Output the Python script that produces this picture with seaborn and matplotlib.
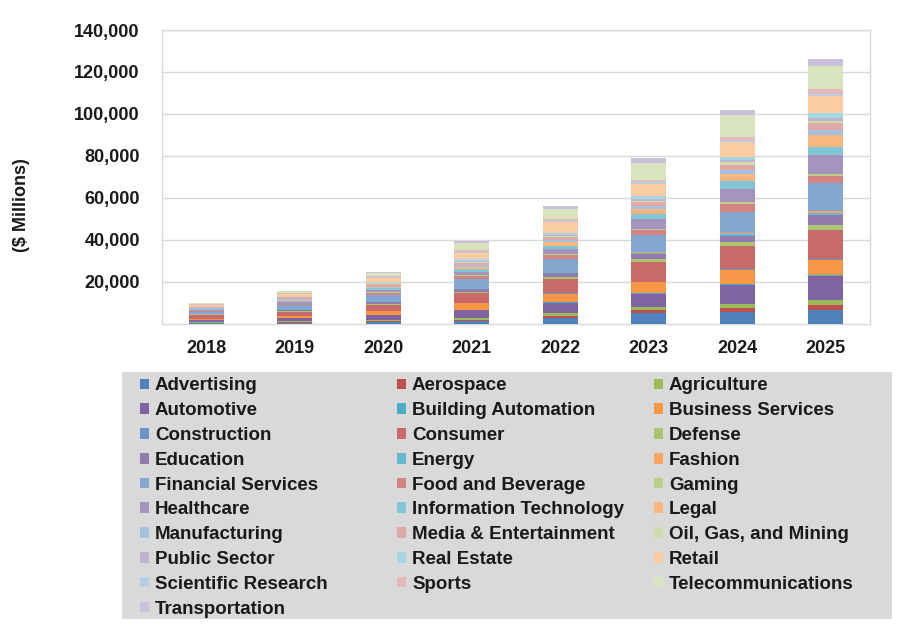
import numpy as np
import pandas as pd
import matplotlib
matplotlib.use("Agg")
import matplotlib.pyplot as plt
import seaborn as sns
from matplotlib.patches import Patch, Rectangle
from matplotlib.ticker import FuncFormatter, FixedLocator

# ---------------- data ----------------
years = ["2018", "2019", "2020", "2021", "2022", "2023", "2024", "2025"]
categories = [
    "Advertising", "Aerospace", "Agriculture", "Automotive", "Building Automation",
    "Business Services", "Construction", "Consumer", "Defense", "Education", "Energy",
    "Fashion", "Financial Services", "Food and Beverage", "Gaming", "Healthcare",
    "Information Technology", "Legal", "Manufacturing", "Media & Entertainment",
    "Oil, Gas, and Mining", "Public Sector", "Real Estate", "Retail",
    "Scientific Research", "Sports", "Telecommunications", "Transportation",
]
v2018 = [250, 200, 200, 900, 50, 700, 50, 1200, 200, 400, 100, 100, 1200, 400,
         100, 450, 300, 300, 250, 300, 120, 120, 200, 700, 120, 200, 600, 200]
v2019 = [400, 300, 300, 1500, 80, 1100, 80, 1900, 300, 600, 150, 150, 1900, 600,
         150, 700, 500, 500, 400, 500, 200, 200, 300, 1100, 200, 300, 1000, 300]
v2020 = [700, 400, 400, 2600, 100, 1700, 100, 3000, 500, 900, 200, 200, 2900, 900,
         200, 1100, 800, 800, 600, 700, 300, 300, 500, 1800, 300, 500, 1600, 500]
v2021 = [1300, 600, 600, 3900, 150, 3100, 150, 4700, 700, 1300, 300, 300, 4300, 1300,
         300, 1700, 1200, 1200, 900, 1000, 400, 500, 700, 3200, 400, 800, 3300, 1000]
v2022 = [2400, 1300, 1100, 5100, 200, 4100, 200, 6700, 1000, 1900, 400, 400, 6000, 1800,
         400, 2400, 1700, 1600, 1200, 1300, 600, 600, 900, 5000, 500, 1000, 4800, 1600]
v2023 = [4800, 1600, 1500, 6400, 300, 5100, 300, 9200, 1500, 2400, 600, 600, 8000, 2400,
         600, 4500, 2400, 2200, 1600, 1800, 800, 900, 1200, 6000, 700, 1200, 8000, 2400]
v2024 = [5500, 1900, 1700, 9500, 300, 6700, 300, 11100, 1900, 2900, 800, 800, 10000, 3600,
         800, 6500, 3600, 3600, 1900, 2400, 1000, 1200, 1600, 7100, 800, 1600, 10300, 2400]
v2025 = [6300, 2400, 2400, 11400, 400, 7600, 400, 13500, 2400, 4800, 1000, 1000, 13500, 3200,
         1000, 9000, 4000, 5600, 2400, 3200, 1000, 1400, 2400, 8000, 1000, 2400, 11000, 3300]

yticks = [20000, 40000, 60000, 80000, 100000, 120000, 140000]

# ---------------- colours ----------------
base = ["#4F81BD", "#C0504D", "#9BBB59", "#8064A2", "#4BACC6", "#F79646"]
tints = [0.0, 0.15, 0.3, 0.5, 0.6]


def tint(hexc, f):
    r, g, b = matplotlib.colors.to_rgb(hexc)
    return (r + (1 - r) * f, g + (1 - g) * f, b + (1 - b) * f)


colors = [tint(base[i % 6], tints[i // 6]) for i in range(len(categories))]

# ---------------- table ----------------
cols = [v2018, v2019, v2020, v2021, v2022, v2023, v2024, v2025]
rows = []
for yi, yr in enumerate(years):
    for ci, cat in enumerate(categories):
        rows.append({"Year": yr, "Industry": cat, "Value": cols[yi][ci]})
df = pd.DataFrame(rows)

# ---------------- plot ----------------
sns.set_theme(style="white")
plt.rcParams["font.family"] = ["Liberation Sans", "DejaVu Sans"]
plt.rcParams["font.weight"] = "bold"

fig = plt.figure(figsize=(9, 6.29), dpi=100)
ax = fig.add_axes([162 / 900, 1 - 323.5 / 629, (870 - 162) / 900, (323.5 - 30) / 629])

bottom = np.zeros(len(years))
for ci, cat in enumerate(categories):
    sub = df[df["Industry"] == cat]
    sns.barplot(data=sub, x="Year", y="Value", order=years, color=colors[ci],
                width=0.4, bottom=bottom, errorbar=None, ax=ax,
                linewidth=0, saturation=1, zorder=3)
    bottom = bottom + sub.set_index("Year").loc[years, "Value"].to_numpy()

ax.set_ylim(0, 140000)
ax.set_xlim(-0.5, 7.5)
ax.yaxis.set_major_locator(FixedLocator(yticks))
ax.yaxis.set_major_formatter(FuncFormatter(lambda v, p: f"{int(v):,}"))
ax.grid(axis="y", color="#D9D9D9", linewidth=1, zorder=0)
ax.grid(axis="x", visible=False)
for s in ax.spines.values():
    s.set_visible(True)
    s.set_color("#D9D9D9")
    s.set_linewidth(1)
ax.tick_params(axis="both", length=0, labelsize=13, colors="#1a1a1a")
ax.tick_params(axis="y", pad=16)
ax.tick_params(axis="x", pad=12)
for lab in ax.get_xticklabels() + ax.get_yticklabels():
    lab.set_fontweight("bold")
ax.set_xlabel("")
ax.set_ylabel("")

fig.text(22 / 900, 1 - 205 / 629, "($ Millions)", rotation=90, ha="center",
         va="center", fontsize=13, fontweight="bold", color="#1a1a1a")

# ---------------- legend ----------------
fig.patches.append(Rectangle((122 / 900, 1 - 619 / 629), 770 / 900, 247 / 629,
                             transform=fig.transFigure, facecolor="#D9D9D9",
                             edgecolor="none", zorder=0))

handles = [Patch(facecolor=colors[i], edgecolor="none") for i in range(len(categories))]
col_x = [140 / 900, 397 / 900, 654 / 900]
for c in range(3):
    idx = list(range(c, len(categories), 3))
    leg = fig.legend([handles[i] for i in idx], [categories[i] for i in idx],
                     loc="upper left", bbox_to_anchor=(col_x[c], 1 - 377.5 / 629),
                     frameon=False, ncol=1, handlelength=0.5,
                     handleheight=0.5, handletextpad=0.3, labelspacing=0.415,
                     borderpad=0, borderaxespad=0,
                     prop={"weight": "bold", "size": 13.5})
    for t in leg.get_texts():
        t.set_color("#1a1a1a")

fig.savefig("out.png", dpi=100, facecolor="white")
